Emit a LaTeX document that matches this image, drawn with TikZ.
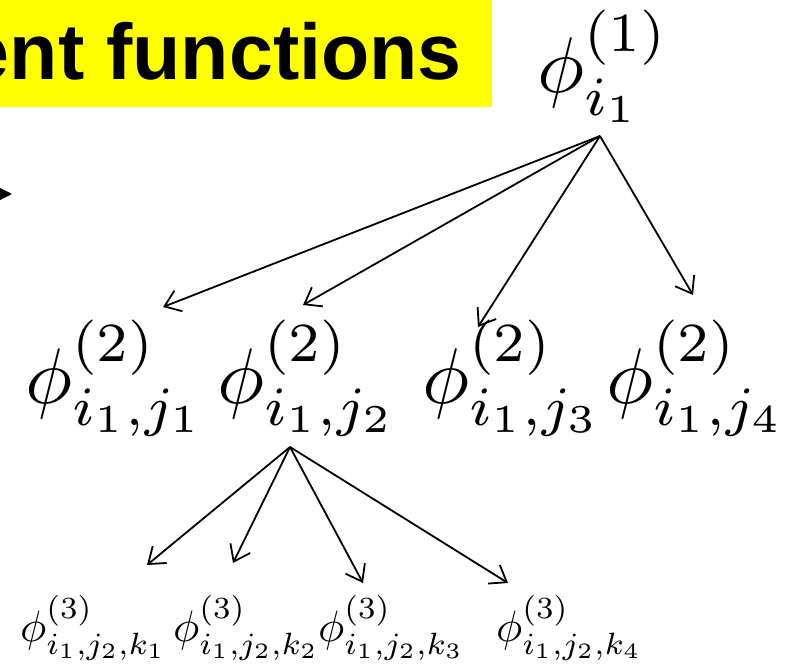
\documentclass[tikz,border=0pt]{standalone}
\usepackage{graphicx}
\usepackage{fontspec}
\newfontfamily\arialbf{Liberation Sans}[BoldFont={* Bold}]
\usetikzlibrary{arrows.meta}
\definecolor{titleyellow}{RGB}{255,255,0}
\newcommand{\bigphi}[1]{\scalebox{7.9}{$#1$}}
\newcommand{\smallphi}[1]{\scalebox{4.4}{$#1$}}
\tikzset{
  lvA/.style={anchor=base west,inner sep=0pt},
  lvC/.style={anchor=base west,inner sep=0pt},
  conn/.style={line width=1.8pt,-{Straight Barb[length=15pt,width=22pt,line width=1.8pt]}},
}
\begin{document}
\begin{tikzpicture}[x=1pt,y=-1pt]
\useasboundingbox (0,0) rectangle (790,666);
% title box
\fill[titleyellow] (-20,0) rectangle (492,107);
\node[anchor=base east,inner sep=0pt,font=\arialbf\bfseries\fontsize{79}{94}\selectfont] (title) at (462,80) {ent functions};
% partial arrow head at left edge
\coordinate (lt) at (-60,194);
\coordinate (lh) at (12,194);
\draw[line width=1.8pt,-{Stealth[length=16pt,width=16pt]}] (lt) -- (lh);
% nodes
\node[lvA] (r) at (537,93) {\bigphi{\phi^{(1)}_{i_1}}};
\node[lvA] (a1) at (25,403) {\bigphi{\phi^{(2)}_{i_1,j_1}}};
\node[lvA] (a2) at (217,403) {\bigphi{\phi^{(2)}_{i_1,j_2}}};
\node[lvA] (a3) at (422,403) {\bigphi{\phi^{(2)}_{i_1,j_3}}};
\node[lvA] (a4) at (606,403) {\bigphi{\phi^{(2)}_{i_1,j_4}}};
\node[lvC] (b1) at (20,641) {\smallphi{\phi^{(3)}_{i_1,j_2,k_1}}};
\node[lvC] (b2) at (173,641) {\smallphi{\phi^{(3)}_{i_1,j_2,k_2}}};
\node[lvC] (b3) at (318,641) {\smallphi{\phi^{(3)}_{i_1,j_2,k_3}}};
\node[lvC] (b4) at (496,641) {\smallphi{\phi^{(3)}_{i_1,j_2,k_4}}};
% connector ends
\coordinate (rs) at (600,136);
\coordinate (e1) at (163,307);
\coordinate (e2) at (303,305);
\coordinate (e3) at (478,327);
\coordinate (e4) at (693,295);
\coordinate (as) at (290,447);
\coordinate (f1) at (147,565);
\coordinate (f2) at (233,563);
\coordinate (f3) at (363,583);
\coordinate (f4) at (508,583);
\draw[conn] (rs) -- (e1);
\draw[conn] (rs) -- (e2);
\draw[conn] (rs) -- (e3);
\draw[conn] (rs) -- (e4);
\draw[conn] (as) -- (f1);
\draw[conn] (as) -- (f2);
\draw[conn] (as) -- (f3);
\draw[conn] (as) -- (f4);
\end{tikzpicture}
\end{document}
